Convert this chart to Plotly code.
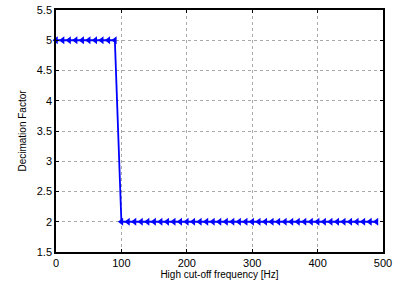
import plotly.graph_objects as go

freq_high = [0, 10, 20, 30, 40, 50, 60, 70, 80, 90]
dec_high = [5] * len(freq_high)
freq_low = list(range(100, 500, 10))
dec_low = [2] * len(freq_low)

freqs = freq_high + freq_low
decim = dec_high + dec_low

x_ticks = [0, 100, 200, 300, 400, 500]
y_ticks = [1.5, 2, 2.5, 3, 3.5, 4, 4.5, 5, 5.5]

fig = go.Figure()
fig.add_trace(go.Scatter(
    x=freqs, y=decim, mode="lines+markers",
    line=dict(color="rgb(0,0,255)", width=1.8),
    marker=dict(symbol="triangle-left", size=7, color="rgb(0,0,255)"),
    showlegend=False, cliponaxis=False,
))

axis_common = dict(
    showline=True, linecolor="black", linewidth=1.5, mirror="ticks",
    ticks="inside", ticklen=3, tickcolor="black",
    showgrid=True, gridcolor="rgb(170,170,170)", griddash="dot", gridwidth=1,
    zeroline=False, automargin=False,
    tickfont=dict(family="Liberation Sans, Arial", size=11, color="black"),
)

fig.update_layout(
    width=394, height=291,
    margin=dict(l=56, r=11, t=10, b=39),
    paper_bgcolor="white", plot_bgcolor="white",
    font=dict(family="Liberation Sans, Arial", color="black"),
    xaxis=dict(range=[0, 500], tickvals=x_ticks,
               title=dict(text="High cut-off frequency [Hz]", font=dict(size=10), standoff=2),
               **axis_common),
    yaxis=dict(range=[1.5, 5.5], tickvals=y_ticks, ticktext=[f"{v:g}" for v in y_ticks],
               title=dict(text="Decimation Factor", font=dict(size=10), standoff=8),
               **axis_common),
)

fig.write_html("out.html", config={"displayModeBar": False},
               post_script="document.body.style.margin='0px';document.body.style.overflow='hidden';")
